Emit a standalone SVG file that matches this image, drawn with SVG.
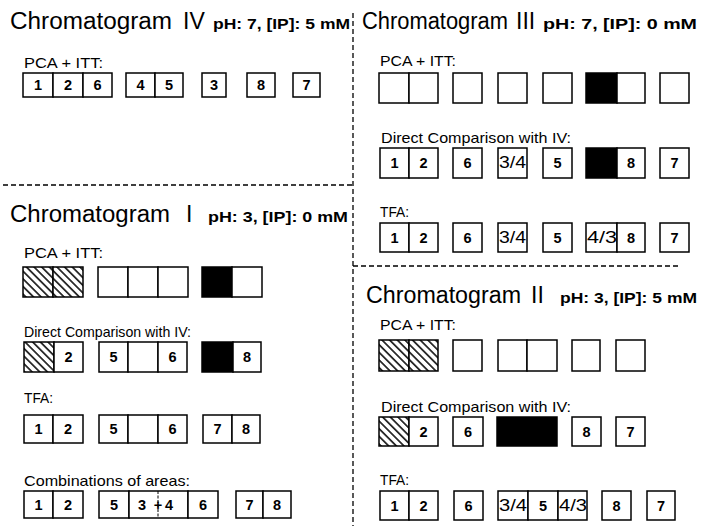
<svg xmlns="http://www.w3.org/2000/svg" width="706" height="526" viewBox="0 0 706 526">
  <style>
    text { font-family: "Liberation Sans", Arial, sans-serif; fill: #000; }
    .box { fill: #fff; stroke: #000; stroke-width: 1.5; }
    .blk { fill: #000; stroke: #000; stroke-width: 1.5; }
    .hat { fill: url(#hatch); stroke: #000; stroke-width: 1.5; }
    .num { font-size: 14.5px; font-weight: bold; text-anchor: middle; }
    .frac { font-size: 16px; }
    .lbl { font-size: 15px; }
    .ttl { font-size: 23px; }
    .ph { font-size: 14px; font-weight: bold; }
    .div { fill: none; stroke: #000; stroke-width: 1.3; stroke-dasharray: 5 3; }
  </style>
  <defs>
    <pattern id="hatch" patternUnits="userSpaceOnUse" width="5.4" height="8" patternTransform="rotate(-45)">
      <rect width="5.4" height="8" fill="#fff"/>
      <line x1="2.7" y1="0" x2="2.7" y2="8" stroke="#000" stroke-width="1.5"/>
    </pattern>
  </defs>

  <rect width="706" height="526" fill="#fff"/>

  <!-- panel dividers -->
  <g id="dividers">
    <line class="div" x1="353" y1="13" x2="353" y2="526"/>
    <line class="div" x1="3" y1="185" x2="353" y2="185"/>
    <line class="div" x1="353" y1="266" x2="680" y2="266"/>
  </g>

  <!-- ===== Chromatogram IV ===== -->
  <g id="title-iv">
    <text class="ttl" x="10" y="29" textLength="162" lengthAdjust="spacingAndGlyphs">Chromatogram</text>
    <text class="ttl" x="183" y="29">IV</text>
    <text class="ph" x="213" y="29" textLength="137" lengthAdjust="spacingAndGlyphs">pH: 7, [IP]: 5 mM</text>
  </g>
  <g id="iv-pca">
    <text class="lbl" x="24" y="68" textLength="79" lengthAdjust="spacingAndGlyphs">PCA + ITT:</text>
    <g id="iv-pca-126">
      <rect class="box" x="23" y="73" width="30" height="24"/>
      <rect class="box" x="53" y="73" width="30" height="24"/>
      <rect class="box" x="83" y="73" width="29" height="24"/>
      <text class="num" x="38" y="90">1</text>
      <text class="num" x="68" y="90">2</text>
      <text class="num" x="97.5" y="90">6</text>
    </g>
    <g id="iv-pca-45">
      <rect class="box" x="126" y="73" width="29" height="24"/>
      <rect class="box" x="155" y="73" width="28" height="24"/>
      <text class="num" x="140.5" y="90">4</text>
      <text class="num" x="169" y="90">5</text>
    </g>
    <g id="iv-pca-3">
      <rect class="box" x="202" y="73" width="24" height="24"/>
      <text class="num" x="214" y="90">3</text>
    </g>
    <g id="iv-pca-8">
      <rect class="box" x="247" y="73" width="28" height="24"/>
      <text class="num" x="261" y="90">8</text>
    </g>
    <g id="iv-pca-7">
      <rect class="box" x="293" y="73" width="27" height="24"/>
      <text class="num" x="306.5" y="90">7</text>
    </g>
  </g>

  <!-- ===== Chromatogram III ===== -->
  <g id="title-iii">
    <text class="ttl" x="362" y="29" textLength="146" lengthAdjust="spacingAndGlyphs">Chromatogram</text>
    <text class="ttl" x="516" y="29">III</text>
    <text class="ph" x="543" y="29" textLength="154" lengthAdjust="spacingAndGlyphs">pH: 7, [IP]: 0 mM</text>
  </g>
  <g id="iii-pca">
    <text class="lbl" x="380" y="66" textLength="76" lengthAdjust="spacingAndGlyphs">PCA + ITT:</text>
    <g id="iii-pca-a">
      <rect class="box" x="379" y="73" width="30" height="30"/>
      <rect class="box" x="409" y="73" width="29" height="30"/>
    </g>
    <g id="iii-pca-b"><rect class="box" x="453" y="73" width="29" height="30"/></g>
    <g id="iii-pca-c"><rect class="box" x="498" y="73" width="29" height="30"/></g>
    <g id="iii-pca-d"><rect class="box" x="543" y="73" width="29" height="30"/></g>
    <g id="iii-pca-e">
      <rect class="blk" x="586" y="73" width="31" height="30"/>
      <rect class="box" x="617" y="73" width="28" height="30"/>
    </g>
    <g id="iii-pca-f"><rect class="box" x="660" y="73" width="29" height="30"/></g>
  </g>
  <g id="iii-dc">
    <text class="lbl" x="381" y="143" textLength="190" lengthAdjust="spacingAndGlyphs">Direct Comparison with IV:</text>
    <g id="iii-dc-12">
      <rect class="box" x="380" y="148" width="29" height="30"/>
      <rect class="box" x="409" y="148" width="29" height="30"/>
      <text class="num" x="394.5" y="168.4">1</text>
      <text class="num" x="423.5" y="168.4">2</text>
    </g>
    <g id="iii-dc-6">
      <rect class="box" x="453" y="148" width="29" height="30"/>
      <text class="num" x="467.5" y="168.4">6</text>
    </g>
    <g id="iii-dc-34">
      <rect class="box" x="498" y="148" width="29" height="30"/>
      <text class="frac" x="499" y="168.4" textLength="27" lengthAdjust="spacingAndGlyphs">3/4</text>
    </g>
    <g id="iii-dc-5">
      <rect class="box" x="543" y="148" width="29" height="30"/>
      <text class="num" x="557.5" y="168.4">5</text>
    </g>
    <g id="iii-dc-8">
      <rect class="blk" x="586" y="148" width="31" height="30"/>
      <rect class="box" x="617" y="148" width="28" height="30"/>
      <text class="num" x="631" y="168.4">8</text>
    </g>
    <g id="iii-dc-7">
      <rect class="box" x="660" y="148" width="29" height="30"/>
      <text class="num" x="674.5" y="168.4">7</text>
    </g>
  </g>
  <g id="iii-tfa">
    <text class="lbl" x="380" y="217" textLength="29" lengthAdjust="spacingAndGlyphs">TFA:</text>
    <g id="iii-tfa-12">
      <rect class="box" x="380" y="223" width="29" height="29"/>
      <rect class="box" x="409" y="223" width="29" height="29"/>
      <text class="num" x="394.5" y="243">1</text>
      <text class="num" x="423.5" y="243">2</text>
    </g>
    <g id="iii-tfa-6">
      <rect class="box" x="453" y="223" width="29" height="29"/>
      <text class="num" x="467.5" y="243">6</text>
    </g>
    <g id="iii-tfa-34">
      <rect class="box" x="498" y="223" width="29" height="29"/>
      <text class="frac" x="499" y="243" textLength="27" lengthAdjust="spacingAndGlyphs">3/4</text>
    </g>
    <g id="iii-tfa-5">
      <rect class="box" x="543" y="223" width="29" height="29"/>
      <text class="num" x="557.5" y="243">5</text>
    </g>
    <g id="iii-tfa-438">
      <rect class="box" x="586" y="223" width="31" height="29"/>
      <rect class="box" x="617" y="223" width="28" height="29"/>
      <text class="frac" x="587" y="243" textLength="30" lengthAdjust="spacingAndGlyphs">4/3</text>
      <text class="num" x="631" y="243">8</text>
    </g>
    <g id="iii-tfa-7">
      <rect class="box" x="660" y="223" width="29" height="29"/>
      <text class="num" x="674.5" y="243">7</text>
    </g>
  </g>

  <!-- ===== Chromatogram I ===== -->
  <g id="title-i">
    <text class="ttl" x="10" y="222" textLength="160" lengthAdjust="spacingAndGlyphs">Chromatogram</text>
    <text class="ttl" x="186" y="222">I</text>
    <text class="ph" x="208" y="222" textLength="140" lengthAdjust="spacingAndGlyphs">pH: 3, [IP]: 0 mM</text>
  </g>
  <g id="i-pca">
    <text class="lbl" x="24" y="258" textLength="79" lengthAdjust="spacingAndGlyphs">PCA + ITT:</text>
    <g id="i-pca-a">
      <rect class="hat" x="23" y="267" width="30" height="30"/>
      <rect class="hat" x="53" y="267" width="30" height="30"/>
    </g>
    <g id="i-pca-b">
      <rect class="box" x="98" y="267" width="30" height="30"/>
      <rect class="box" x="128" y="267" width="30" height="30"/>
      <rect class="box" x="158" y="267" width="30" height="30"/>
    </g>
    <g id="i-pca-c">
      <rect class="blk" x="202" y="267" width="30" height="30"/>
      <rect class="box" x="232" y="267" width="30" height="30"/>
    </g>
  </g>
  <g id="i-dc">
    <text class="lbl" x="24" y="337" textLength="167" lengthAdjust="spacingAndGlyphs">Direct Comparison with IV:</text>
    <g id="i-dc-2">
      <rect class="hat" x="24" y="342" width="30" height="30"/>
      <rect class="box" x="54" y="342" width="29" height="30"/>
      <text class="num" x="68.5" y="362.4">2</text>
    </g>
    <g id="i-dc-56">
      <rect class="box" x="99" y="342" width="29" height="30"/>
      <rect class="box" x="128" y="342" width="30" height="30"/>
      <rect class="box" x="158" y="342" width="29" height="30"/>
      <text class="num" x="113.5" y="362.4">5</text>
      <text class="num" x="172.5" y="362.4">6</text>
    </g>
    <g id="i-dc-8">
      <rect class="blk" x="202" y="342" width="31" height="30"/>
      <rect class="box" x="233" y="342" width="28" height="30"/>
      <text class="num" x="247" y="362.4">8</text>
    </g>
  </g>
  <g id="i-tfa">
    <text class="lbl" x="24" y="403" textLength="29" lengthAdjust="spacingAndGlyphs">TFA:</text>
    <g id="i-tfa-12">
      <rect class="box" x="24" y="415" width="29" height="28"/>
      <rect class="box" x="53" y="415" width="30" height="28"/>
      <text class="num" x="38.5" y="434.4">1</text>
      <text class="num" x="68" y="434.4">2</text>
    </g>
    <g id="i-tfa-56">
      <rect class="box" x="99" y="415" width="29" height="28"/>
      <rect class="box" x="128" y="415" width="30" height="28"/>
      <rect class="box" x="158" y="415" width="29" height="28"/>
      <text class="num" x="113.5" y="434.4">5</text>
      <text class="num" x="172.5" y="434.4">6</text>
    </g>
    <g id="i-tfa-78">
      <rect class="box" x="203" y="415" width="29" height="28"/>
      <rect class="box" x="232" y="415" width="28" height="28"/>
      <text class="num" x="217.5" y="434.4">7</text>
      <text class="num" x="246" y="434.4">8</text>
    </g>
  </g>
  <g id="i-comb">
    <text class="lbl" x="24" y="486" textLength="166" lengthAdjust="spacingAndGlyphs">Combinations of areas:</text>
    <g id="i-comb-12">
      <rect class="box" x="24" y="491" width="29" height="27"/>
      <rect class="box" x="53" y="491" width="30" height="27"/>
      <text class="num" x="38.5" y="510">1</text>
      <text class="num" x="68" y="510">2</text>
    </g>
    <g id="i-comb-5346">
      <rect class="box" x="99" y="491" width="30" height="27"/>
      <rect class="box" x="129" y="491" width="59" height="27"/>
      <rect class="box" x="188" y="491" width="30" height="27"/>
      <line x1="158" y1="491" x2="158" y2="518" stroke="#000" stroke-width="1" stroke-dasharray="3 1.5"/>
      <text class="num" x="114" y="510">5</text>
      <text class="num" x="142" y="510">3</text>
      <text class="num" x="158" y="510">+</text>
      <text class="num" x="169" y="510">4</text>
      <text class="num" x="203" y="510">6</text>
    </g>
    <g id="i-comb-78">
      <rect class="box" x="236" y="491" width="27" height="27"/>
      <rect class="box" x="263" y="491" width="28" height="27"/>
      <text class="num" x="249.5" y="510">7</text>
      <text class="num" x="277" y="510">8</text>
    </g>
  </g>

  <!-- ===== Chromatogram II ===== -->
  <g id="title-ii">
    <text class="ttl" x="366" y="303" textLength="155" lengthAdjust="spacingAndGlyphs">Chromatogram</text>
    <text class="ttl" x="531" y="303">II</text>
    <text class="ph" x="560" y="303" textLength="137" lengthAdjust="spacingAndGlyphs">pH: 3, [IP]: 5 mM</text>
  </g>
  <g id="ii-pca">
    <text class="lbl" x="380" y="330" textLength="76" lengthAdjust="spacingAndGlyphs">PCA + ITT:</text>
    <g id="ii-pca-a">
      <rect class="hat" x="379" y="340" width="30" height="31"/>
      <rect class="hat" x="409" y="340" width="29" height="31"/>
    </g>
    <g id="ii-pca-b"><rect class="box" x="453" y="340" width="29" height="31"/></g>
    <g id="ii-pca-c">
      <rect class="box" x="498" y="340" width="29" height="31"/>
      <rect class="box" x="527" y="340" width="30" height="31"/>
    </g>
    <g id="ii-pca-d"><rect class="box" x="572" y="340" width="28" height="31"/></g>
    <g id="ii-pca-e"><rect class="box" x="616" y="340" width="29" height="31"/></g>
  </g>
  <g id="ii-dc">
    <text class="lbl" x="381" y="412" textLength="190" lengthAdjust="spacingAndGlyphs">Direct Comparison with IV:</text>
    <g id="ii-dc-2">
      <rect class="hat" x="379" y="417" width="30" height="29"/>
      <rect class="box" x="409" y="417" width="29" height="29"/>
      <text class="num" x="423.5" y="437">2</text>
    </g>
    <g id="ii-dc-6">
      <rect class="box" x="453" y="417" width="30" height="29"/>
      <text class="num" x="468" y="437">6</text>
    </g>
    <g id="ii-dc-blk">
      <rect class="blk" x="497" y="417" width="60" height="29"/>
    </g>
    <g id="ii-dc-8">
      <rect class="box" x="572" y="417" width="29" height="29"/>
      <text class="num" x="586.5" y="437">8</text>
    </g>
    <g id="ii-dc-7">
      <rect class="box" x="616" y="417" width="29" height="29"/>
      <text class="num" x="630.5" y="437">7</text>
    </g>
  </g>
  <g id="ii-tfa">
    <text class="lbl" x="380" y="485" textLength="29" lengthAdjust="spacingAndGlyphs">TFA:</text>
    <g id="ii-tfa-12">
      <rect class="box" x="380" y="491" width="29" height="29"/>
      <rect class="box" x="409" y="491" width="29" height="29"/>
      <text class="num" x="394.5" y="511">1</text>
      <text class="num" x="423.5" y="511">2</text>
    </g>
    <g id="ii-tfa-6">
      <rect class="box" x="454" y="491" width="29" height="29"/>
      <text class="num" x="468.5" y="511">6</text>
    </g>
    <g id="ii-tfa-34543">
      <rect class="box" x="498" y="491" width="30" height="29"/>
      <rect class="box" x="528" y="491" width="30" height="29"/>
      <rect class="box" x="558" y="491" width="29" height="29"/>
      <text class="frac" x="499" y="511" textLength="28" lengthAdjust="spacingAndGlyphs">3/4</text>
      <text class="num" x="543" y="511">5</text>
      <text class="frac" x="559" y="511" textLength="28" lengthAdjust="spacingAndGlyphs">4/3</text>
    </g>
    <g id="ii-tfa-8">
      <rect class="box" x="602" y="491" width="29" height="29"/>
      <text class="num" x="616.5" y="511">8</text>
    </g>
    <g id="ii-tfa-7">
      <rect class="box" x="647" y="491" width="28" height="29"/>
      <text class="num" x="661" y="511">7</text>
    </g>
  </g>
</svg>
